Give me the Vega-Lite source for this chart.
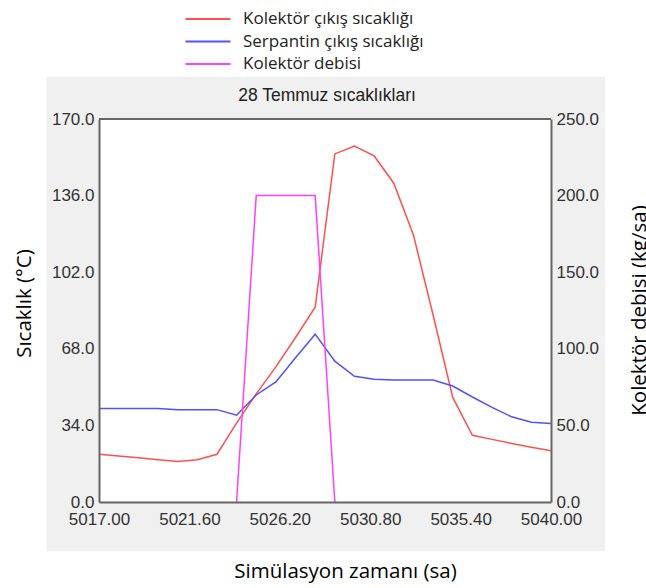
{
  "$schema": "https://vega.github.io/schema/vega-lite/v6.json",
  "width": 452,
  "height": 383,
  "autosize": {"type": "none"},
  "padding": {"left": 99, "top": 119, "right": 95, "bottom": 86},
  "background": "white",
  "title": {"text": "28 Temmuz sıcaklıkları", "font": "Liberation Sans", "fontSize": 17.5, "fontWeight": "normal", "color": "#222", "anchor": "middle", "baseline": "alphabetic", "offset": 0, "dx": 2, "dy": 109, "zindex": 1},
  "config": {
    "view": {"stroke": null},
    "axis": {"domainColor": "#666", "domainWidth": 2, "ticks": false, "labelFont": "Liberation Sans", "labelFontSize": 17, "labelColor": "#333", "gridColor": "#cfcfcf", "gridDash": [3, 3], "gridWidth": 1, "titleFont": "Open Sans", "titleFontSize": 20.5, "titleFontWeight": "normal", "titleColor": "#000", "labelOverlap": false, "labelFlush": false}
  },
  "datasets": {
    "temps": [
      {"t": 5017, "series": "Kolektör çıkış sıcaklığı", "v": 21.2},
      {"t": 5018, "series": "Kolektör çıkış sıcaklığı", "v": 20.4},
      {"t": 5019, "series": "Kolektör çıkış sıcaklığı", "v": 19.6},
      {"t": 5020, "series": "Kolektör çıkış sıcaklığı", "v": 18.8},
      {"t": 5021, "series": "Kolektör çıkış sıcaklığı", "v": 18.0},
      {"t": 5022, "series": "Kolektör çıkış sıcaklığı", "v": 18.8},
      {"t": 5023, "series": "Kolektör çıkış sıcaklığı", "v": 21.2},
      {"t": 5024, "series": "Kolektör çıkış sıcaklığı", "v": 35.0},
      {"t": 5025, "series": "Kolektör çıkış sıcaklığı", "v": 48.0},
      {"t": 5026, "series": "Kolektör çıkış sıcaklığı", "v": 60.0},
      {"t": 5027, "series": "Kolektör çıkış sıcaklığı", "v": 73.0},
      {"t": 5028, "series": "Kolektör çıkış sıcaklığı", "v": 86.5},
      {"t": 5029, "series": "Kolektör çıkış sıcaklığı", "v": 154.5},
      {"t": 5030, "series": "Kolektör çıkış sıcaklığı", "v": 158.0},
      {"t": 5031, "series": "Kolektör çıkış sıcaklığı", "v": 153.6},
      {"t": 5032, "series": "Kolektör çıkış sıcaklığı", "v": 141.5},
      {"t": 5033, "series": "Kolektör çıkış sıcaklığı", "v": 118.5},
      {"t": 5034, "series": "Kolektör çıkış sıcaklığı", "v": 83.0},
      {"t": 5035, "series": "Kolektör çıkış sıcaklığı", "v": 46.4},
      {"t": 5036, "series": "Kolektör çıkış sıcaklığı", "v": 29.6},
      {"t": 5037, "series": "Kolektör çıkış sıcaklığı", "v": 27.8},
      {"t": 5038, "series": "Kolektör çıkış sıcaklığı", "v": 26.0},
      {"t": 5039, "series": "Kolektör çıkış sıcaklığı", "v": 24.3},
      {"t": 5040, "series": "Kolektör çıkış sıcaklığı", "v": 22.7},
      {"t": 5017, "series": "Serpantin çıkış sıcaklığı", "v": 41.5},
      {"t": 5018, "series": "Serpantin çıkış sıcaklığı", "v": 41.5},
      {"t": 5019, "series": "Serpantin çıkış sıcaklığı", "v": 41.5},
      {"t": 5020, "series": "Serpantin çıkış sıcaklığı", "v": 41.5},
      {"t": 5021, "series": "Serpantin çıkış sıcaklığı", "v": 41.0},
      {"t": 5022, "series": "Serpantin çıkış sıcaklığı", "v": 41.0},
      {"t": 5023, "series": "Serpantin çıkış sıcaklığı", "v": 41.0},
      {"t": 5024, "series": "Serpantin çıkış sıcaklığı", "v": 38.5},
      {"t": 5025, "series": "Serpantin çıkış sıcaklığı", "v": 47.5},
      {"t": 5026, "series": "Serpantin çıkış sıcaklığı", "v": 53.3},
      {"t": 5027, "series": "Serpantin çıkış sıcaklığı", "v": 64.0},
      {"t": 5028, "series": "Serpantin çıkış sıcaklığı", "v": 74.5},
      {"t": 5029, "series": "Serpantin çıkış sıcaklığı", "v": 62.5},
      {"t": 5030, "series": "Serpantin çıkış sıcaklığı", "v": 55.8},
      {"t": 5031, "series": "Serpantin çıkış sıcaklığı", "v": 54.5},
      {"t": 5032, "series": "Serpantin çıkış sıcaklığı", "v": 54.2},
      {"t": 5033, "series": "Serpantin çıkış sıcaklığı", "v": 54.1},
      {"t": 5034, "series": "Serpantin çıkış sıcaklığı", "v": 54.1},
      {"t": 5035, "series": "Serpantin çıkış sıcaklığı", "v": 51.5},
      {"t": 5036, "series": "Serpantin çıkış sıcaklığı", "v": 46.6},
      {"t": 5037, "series": "Serpantin çıkış sıcaklığı", "v": 42.0},
      {"t": 5038, "series": "Serpantin çıkış sıcaklığı", "v": 37.8},
      {"t": 5039, "series": "Serpantin çıkış sıcaklığı", "v": 35.4},
      {"t": 5040, "series": "Serpantin çıkış sıcaklığı", "v": 34.8}
    ],
    "flow": [
      {"t": 5024, "series": "Kolektör debisi", "v": 0},
      {"t": 5025, "series": "Kolektör debisi", "v": 200},
      {"t": 5026, "series": "Kolektör debisi", "v": 200},
      {"t": 5027, "series": "Kolektör debisi", "v": 200},
      {"t": 5028, "series": "Kolektör debisi", "v": 200},
      {"t": 5029, "series": "Kolektör debisi", "v": 0}
    ]
  },
  "layer": [
    {
      "layer": [
        {
          "data": {"values": [{}]},
          "mark": {"type": "rect", "color": "#f0f0f0"},
          "encoding": {
            "x": {"datum": 5014.33, "type": "quantitative", "scale": {"domain": [5017, 5040], "nice": false, "zero": false}, "title": "Simülasyon zamanı (sa)"},
            "x2": {"datum": 5042.76},
            "y": {"datum": 188.7, "type": "quantitative", "scale": {"domain": [0, 170], "nice": false}, "title": "Sıcaklık (°C)"},
            "y2": {"datum": -21.9}
          }
        },
        {
          "data": {"values": [{}]},
          "mark": {"type": "rect", "color": "white"},
          "encoding": {
            "x": {"datum": 5017, "type": "quantitative", "scale": {"domain": [5017, 5040], "nice": false, "zero": false}, "title": "Simülasyon zamanı (sa)"},
            "x2": {"datum": 5040},
            "y": {"datum": 170, "type": "quantitative", "scale": {"domain": [0, 170], "nice": false}, "title": "Sıcaklık (°C)"},
            "y2": {"datum": 0}
          }
        },
        {
          "data": {"values": [{}]},
          "mark": {"type": "rule", "color": "#666", "strokeWidth": 2},
          "encoding": {
            "y": {"datum": 170, "type": "quantitative", "scale": {"domain": [0, 170], "nice": false}, "title": "Sıcaklık (°C)"}
          }
        },
        {
          "data": {"name": "temps"},
          "mark": {"type": "line", "strokeWidth": 1.5},
          "encoding": {
            "x": {"field": "t", "type": "quantitative", "scale": {"domain": [5017, 5040], "nice": false, "zero": false}, "title": "Simülasyon zamanı (sa)",
              "axis": {"zindex": 1, "values": [5017, 5021.6, 5026.2, 5030.8, 5035.4, 5040], "format": ".2f", "labelPadding": 9, "titleX": 246, "titleY": 69, "titleBaseline": "middle", "titleAnchor": null, "titleAlign": "center"}},
            "y": {"field": "v", "type": "quantitative", "scale": {"domain": [0, 170], "nice": false}, "title": "Sıcaklık (°C)",
              "axis": {"zindex": 1, "values": [0, 34, 68, 102, 136, 170], "format": ".1f", "labelPadding": 5, "titleAngle": 270, "titleX": -75, "titleY": 184, "titleBaseline": "middle", "titleAlign": "center"}},
            "color": {"field": "series", "type": "nominal", "title": null,
              "scale": {"domain": ["Kolektör çıkış sıcaklığı", "Serpantin çıkış sıcaklığı", "Kolektör debisi"], "range": ["#ff5050", "#5050ff", "#ff40ff"]},
              "legend": {"orient": "none", "legendX": 99, "legendY": -110, "direction": "vertical", "symbolType": "M-2.5,0H2.5", "symbolSize": 324, "symbolStrokeWidth": 2, "labelFont": "Open Sans", "labelFontSize": 17, "labelColor": "#222", "labelOffset": 25, "labelLimit": 400, "padding": 0, "rowPadding": 4.5}}
          }
        }
      ]
    },
    {
      "data": {"name": "flow"},
      "mark": {"type": "line", "strokeWidth": 1.5},
      "encoding": {
        "x": {"field": "t", "type": "quantitative", "scale": {"domain": [5017, 5040], "nice": false, "zero": false}, "title": "Simülasyon zamanı (sa)"},
        "y": {"field": "v", "type": "quantitative", "scale": {"domain": [0, 250], "nice": false}, "title": "Kolektör debisi (kg/sa)",
          "axis": {"zindex": 1, "orient": "right", "values": [0, 50, 100, 150, 200, 250], "format": ".1f", "labelPadding": 5, "grid": false, "titleAngle": 270, "titleX": 88, "titleY": 191, "titleBaseline": "middle", "titleAlign": "center"}},
        "color": {"field": "series", "type": "nominal", "title": null,
          "scale": {"domain": ["Kolektör çıkış sıcaklığı", "Serpantin çıkış sıcaklığı", "Kolektör debisi"], "range": ["#ff5050", "#5050ff", "#ff40ff"]}}
      }
    }
  ],
  "resolve": {"scale": {"y": "independent"}}
}
